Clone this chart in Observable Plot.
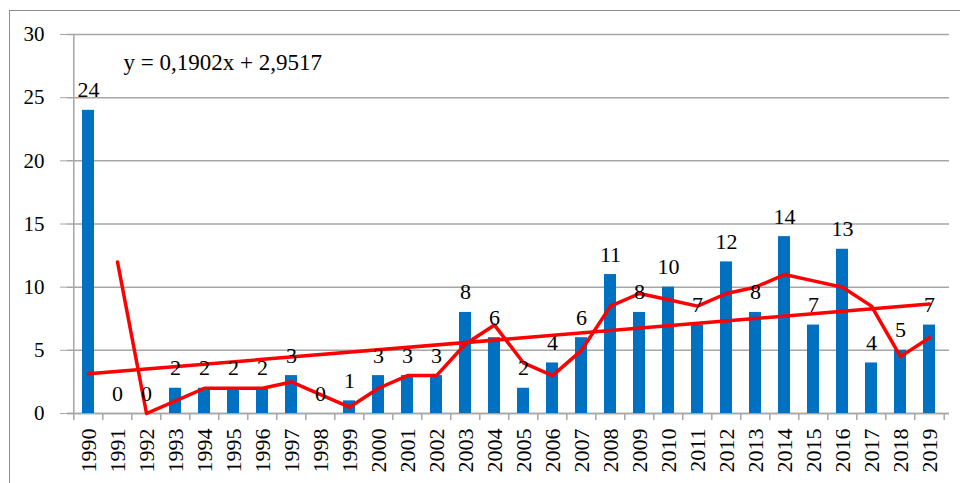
<!DOCTYPE html>
<html>
<head>
<meta charset="utf-8">
<script src="https://cdn.jsdelivr.net/npm/d3@7"></script>
<script src="https://cdn.jsdelivr.net/npm/@observablehq/plot@0.6"></script>
<style>
  body { margin: 0; background: #fff; }
  #wrap { position: relative; width: 960px; height: 483px; overflow: hidden; }
  #border { position: absolute; left: 9px; top: 10px; width: 1000px; height: 600px; border: 1.5px solid #8c8c8c; box-sizing: border-box; }
  #chart { position: absolute; left: 0; top: 0; }
  #chart svg, #chart svg text, #chart svg g { font-family: "Liberation Serif", "Times New Roman", serif !important; }
  #meta { position: absolute; left: 0; top: 700px; font: 12px monospace; white-space: pre-wrap; width: 600px; }
</style>
</head>
<body>
<div id="wrap"><div id="border"></div><div id="chart"></div><div id="meta"></div></div>
<script>
const years = ["1990","1991","1992","1993","1994","1995","1996","1997","1998","1999","2000","2001","2002","2003","2004","2005","2006","2007","2008","2009","2010","2011","2012","2013","2014","2015","2016","2017","2018","2019"];
const counts = [24,0,0,2,2,2,2,3,0,1,3,3,3,8,6,2,4,6,11,8,10,7,12,8,14,7,13,4,5,7];
const avgYears = ["1991","1992","1993","1994","1995","1996","1997","1998","1999","2000","2001","2002","2003","2004","2005","2006","2007","2008","2009","2010","2011","2012","2013","2014","2015","2016","2017","2018","2019"];
const movingAvg = [12,0,1,2,2,2,2.5,1.5,0.5,2,3,3,5.5,7,4,3,5,8.5,9.5,9,8.5,9.5,10,11,10.5,10,8.5,4.5,6];
const trendYears = ["1990","2019"];
const trendValues = [3.14,8.66];
const yTicks = [0,5,10,15,20,25,30];
const equation = "y = 0,1902x + 2,9517";

const bars = years.map((y, i) => ({year: y, value: counts[i]}));
const avg = avgYears.map((y, i) => ({year: y, value: movingAvg[i]}));
const trend = trendYears.map((y, i) => ({year: y, value: trendValues[i]}));

const half = (960 - 67 - 11) / years.length / 2;
const grid = "#a6a6a6";
const serif = "Liberation Serif";

const chart = Plot.plot({
  width: 960,
  height: 483,
  marginLeft: 67,
  marginRight: 11,
  marginTop: 34,
  marginBottom: 70,
  style: {fontFamily: serif, fontSize: "20px", color: "#000", background: "transparent"},
  x: {type: "band", domain: years, paddingInner: 0.6, paddingOuter: 0.3, label: null},
  y: {domain: [0, 30], label: null},
  marks: [
    Plot.gridY(yTicks, {stroke: grid, strokeOpacity: 1, strokeWidth: 1.5}),
    Plot.axisY(yTicks, {tickSize: 7, tickPadding: 16, stroke: grid, fontSize: 21, fontFamily: serif, label: null}),
    Plot.ruleX([years[0]], {dx: -half, y1: 0, y2: 30, stroke: grid, strokeWidth: 1.5}),
    Plot.ruleX(years, {dx: -half, y1: 0, y2: -0.55, stroke: grid, strokeWidth: 1.5}),
    Plot.ruleX([years[years.length - 1]], {dx: half, y1: 0, y2: -0.55, stroke: grid, strokeWidth: 1.5}),
    Plot.ruleY([0], {stroke: grid, strokeWidth: 1.5}),
    Plot.barY(bars, {x: "year", y: "value", fill: "#0070c0"}),
    Plot.line(trend, {x: "year", y: "value", stroke: "#ff0000", strokeWidth: 3.5}),
    Plot.line(avg, {x: "year", y: "value", stroke: "#ff0000", strokeWidth: 3.5}),
    Plot.text(bars, {x: "year", y: "value", text: d => String(d.value), dy: -20, fontSize: 22, fontFamily: serif, fill: "#000"}),
    Plot.text([equation], {frameAnchor: "top-left", dx: 56, dy: 28, textAnchor: "start", lineAnchor: "middle", fontSize: 23, fontFamily: serif, fill: "#000"}),
    Plot.axisX({tickRotate: -90, tickSize: 0, tickPadding: 15, fontSize: 22, fontFamily: serif, label: null})
  ]
});
document.getElementById("chart").appendChild(chart);
const firstTick = chart.querySelector('g[aria-label="y-axis tick label"] text');
if (firstTick) {
  const bb = firstTick.getBBox();
  document.getElementById("meta").textContent = "y-axis " + [bb.x, bb.y, bb.width, bb.height].join(",");
}
</script>
</body>
</html>
